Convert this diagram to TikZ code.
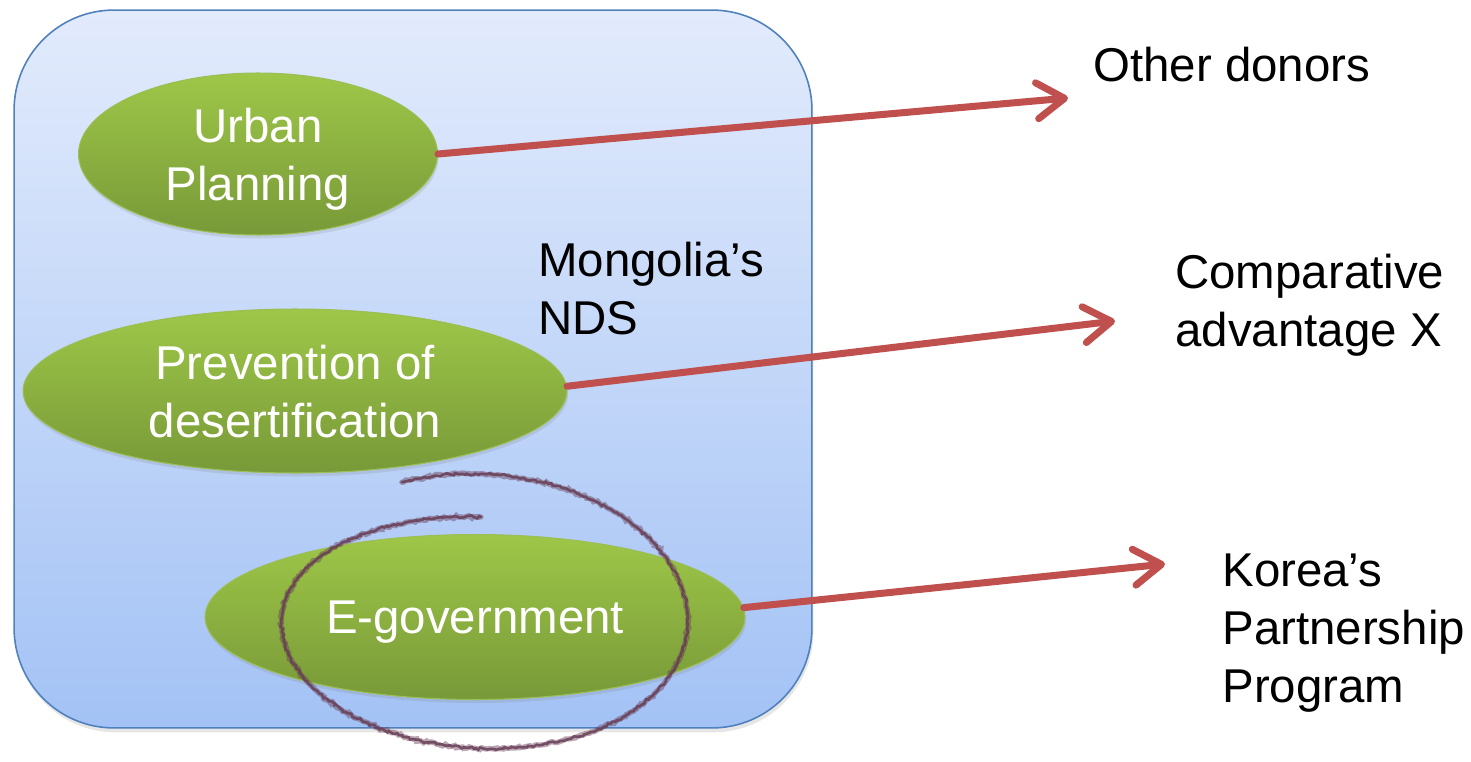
\documentclass[tikz,border=0pt]{standalone}
\usepackage{fontspec}
\setmainfont{Liberation Sans}
\usetikzlibrary{shapes.geometric,arrows.meta,shadows,decorations.pathmorphing}

\definecolor{boxtop}{RGB}{226,235,252}
\definecolor{boxbot}{RGB}{163,194,245}
\definecolor{boxline}{RGB}{79,129,189}
\definecolor{greentop}{RGB}{158,199,72}
\definecolor{greenbot}{RGB}{120,153,56}
\definecolor{greenline}{RGB}{155,190,85}
\definecolor{arrowred}{RGB}{192,80,77}
\definecolor{pencil}{RGB}{104,62,86}

\tikzset{
  txt/.style={font=\fontsize{27}{33}\selectfont, align=left, inner sep=0pt},
  goal/.style={ellipse, draw=greenline, line width=0.6pt, top color=greentop, bottom color=greenbot,
    text=white, font=\fontsize{27}{33}\selectfont, align=center, inner xsep=0pt, inner ysep=-4pt,
    text depth=0pt, drop shadow={opacity=0.2, shadow xshift=0.6pt, shadow yshift=-2pt}},
  link/.style={draw=arrowred, line width=4pt, line cap=round, line join=round,
    -{Straight Barb[length=0.55cm, width=0.72cm, line cap=round, line join=round]}},
  chalk/.style={pencil, line cap=round, decorate,
    decoration={random steps, segment length=1.4pt, amplitude=0.8pt}}
}

\begin{document}
\begin{tikzpicture}[x=0.02cm, y=-0.02cm] % 1 unita = 1 pixel del riferimento
  \useasboundingbox (0,0) rectangle (1471,761);

  % riquadro della strategia nazionale
  \node (ndsbox) at (413,369) [rectangle, rounded corners=2cm, minimum width=15.96cm, minimum height=14.36cm,
    draw=boxline, line width=0.9pt, top color=boxtop, bottom color=boxbot,
    drop shadow={opacity=0.2, shadow xshift=0.8pt, shadow yshift=-2.5pt}] {};

  % ellissi verdi: settori
  \node[goal, minimum width=7.18cm, minimum height=3.24cm] (urban) at (258,154) {Urban\\Planning};
  \node[goal, minimum width=10.88cm, minimum height=3.28cm] (desert) at (295,391) {Prevention of\\desertification};
  \node[goal, minimum width=10.8cm, minimum height=3.3cm] (egov) at (475,617) {E-government};

  \node[txt, anchor=west] (nds) at (538,289) {Mongolia’s\\NDS};

  % etichette a destra
  \node[txt, anchor=west] (donors) at (1093,65) {Other donors};
  \node[txt, anchor=west] (compadv) at (1175,305) {Comparative\\advantage X};
  \node[txt, anchor=west] (korea) at (1222,633) {Korea’s\\Partnership\\Program};

  % punte delle frecce
  \coordinate (tipa) at (1068,98);
  \coordinate (tipb) at (1115,321);
  \coordinate (tipc) at (1165,564);

  \draw[link] (urban.-0.5) -- (tipa);
  \draw[link] (desert.1.5) -- (tipb);
  \draw[link] (egov.2) -- (tipc);

  % cerchio fatto a mano attorno a E-government (spirale, due passate)
  \draw[chalk, line width=3pt, opacity=0.45]
    plot[domain=90:472, samples=170, variable=\t]
      ({481+(196+0.04*(\t-90))*cos(\t)}, {622-(105+0.12*(\t-90))*sin(\t)});
  \draw[chalk, line width=1.5pt, opacity=0.85]
    plot[domain=90:472, samples=170, variable=\t]
      ({481+(196+0.04*(\t-90))*cos(\t)}, {622-(105+0.12*(\t-90))*sin(\t)});
\end{tikzpicture}
\end{document}
